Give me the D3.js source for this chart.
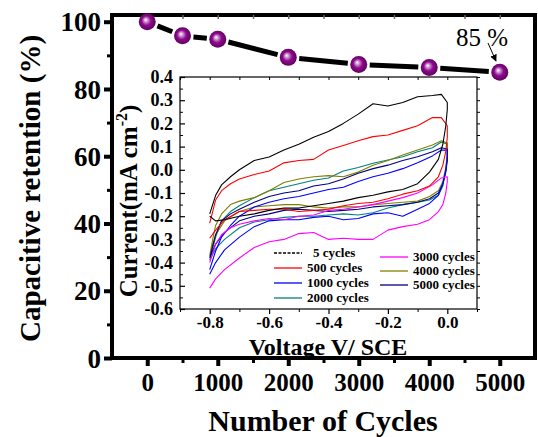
<!DOCTYPE html>
<html><head><meta charset="utf-8">
<script src="https://cdn.jsdelivr.net/npm/d3@7"></script>
<style>html,body{margin:0;padding:0;background:#fff;}svg{display:block;}</style>
</head><body>
<script>
// ---- Main chart data ----
const cycles = [0, 500, 1000, 2000, 3000, 4000, 5000];
const retention = [100, 95.8, 94.8, 89.4, 87.3, 86.4, 85.0];
const mainXTicks = [0, 1000, 2000, 3000, 4000, 5000];
const mainYTicks = [0, 20, 40, 60, 80, 100];

// ---- Inset CV data ----
const cvXTicks = [-0.8, -0.6, -0.4, -0.2, 0.0];
const cvYTicks = [-0.6, -0.5, -0.4, -0.3, -0.2, -0.1, 0.0, 0.1, 0.2, 0.3, 0.4];
const vUp = [-0.8, -0.79, -0.78, -0.76, -0.73, -0.7, -0.65, -0.6, -0.55, -0.5, -0.45, -0.4, -0.35, -0.3, -0.25, -0.2, -0.15, -0.1, -0.05, -0.02, 0.0];
const vDown = [0.0, -0.005, -0.015, -0.03, -0.06, -0.1, -0.15, -0.2, -0.25, -0.3, -0.35, -0.4, -0.45, -0.5, -0.55, -0.6, -0.65, -0.7, -0.75, -0.78, -0.8];
const cvLabels = ["5 cycles", "500 cycles", "1000 cycles", "2000 cycles", "3000 cycles", "4000 cycles", "5000 cycles"];
const cvColors = ["#000000", "#ff0000", "#0000ff", "#008080", "#ff00ff", "#808000", "#000080"];

const up5    = [-0.19, -0.15, -0.11, -0.065, -0.03, 0.0, 0.04, 0.055, 0.085, 0.11, 0.14, 0.165, 0.2, 0.24, 0.285, 0.275, 0.29, 0.315, 0.32, 0.325, 0.29];
const down5  = [0.26, 0.19, 0.11, 0.045, -0.01, -0.06, -0.085, -0.095, -0.11, -0.12, -0.135, -0.145, -0.155, -0.165, -0.165, -0.175, -0.19, -0.2, -0.215, -0.22, -0.2];
const up500  = [-0.23, -0.18, -0.13, -0.09, -0.06, -0.04, -0.02, -0.005, 0.03, 0.04, 0.045, 0.085, 0.105, 0.125, 0.143, 0.15, 0.17, 0.19, 0.225, 0.225, 0.19];
const down500= [0.14, 0.08, 0.02, -0.03, -0.07, -0.09, -0.105, -0.125, -0.14, -0.145, -0.155, -0.17, -0.175, -0.18, -0.17, -0.17, -0.175, -0.18, -0.215, -0.26, -0.295];
const up1000 = [-0.43, -0.39, -0.35, -0.29, -0.24, -0.2, -0.16, -0.14, -0.125, -0.115, -0.1, -0.085, -0.075, -0.05, -0.03, -0.015, 0.005, 0.03, 0.06, 0.085, 0.085];
const down1000=[0.05, 0.0, -0.06, -0.11, -0.145, -0.17, -0.2, -0.185, -0.19, -0.21, -0.215, -0.2, -0.205, -0.215, -0.215, -0.22, -0.245, -0.29, -0.345, -0.4, -0.45];
const up2000 = [-0.39, -0.34, -0.29, -0.22, -0.18, -0.155, -0.12, -0.09, -0.075, -0.06, -0.045, -0.035, -0.005, 0.01, 0.028, 0.042, 0.056, 0.078, 0.095, 0.12, 0.11];
const down2000=[0.06, 0.0, -0.07, -0.11, -0.13, -0.14, -0.15, -0.165, -0.185, -0.195, -0.19, -0.195, -0.2, -0.2, -0.205, -0.215, -0.225, -0.25, -0.3, -0.34, -0.39];
const up3000 = [-0.40, -0.36, -0.32, -0.28, -0.25, -0.235, -0.22, -0.21, -0.215, -0.2, -0.195, -0.175, -0.17, -0.16, -0.15, -0.135, -0.12, -0.1, -0.065, -0.035, -0.03];
const down3000=[-0.05, -0.1, -0.15, -0.18, -0.215, -0.235, -0.245, -0.26, -0.3, -0.3, -0.295, -0.3, -0.27, -0.275, -0.3, -0.31, -0.335, -0.38, -0.43, -0.47, -0.51];
const up4000 = [-0.37, -0.3, -0.24, -0.19, -0.15, -0.135, -0.12, -0.09, -0.055, -0.04, -0.03, -0.025, -0.03, -0.01, 0.02, 0.04, 0.064, 0.085, 0.107, 0.125, 0.115];
const down4000=[0.07, 0.01, -0.05, -0.09, -0.115, -0.135, -0.14, -0.145, -0.15, -0.16, -0.16, -0.165, -0.16, -0.15, -0.15, -0.155, -0.16, -0.18, -0.22, -0.28, -0.37];
const up5000 = [-0.38, -0.33, -0.28, -0.22, -0.19, -0.17, -0.14, -0.115, -0.1, -0.09, -0.07, -0.06, -0.04, -0.015, 0.005, 0.02, 0.04, 0.056, 0.078, 0.095, 0.09];
const down5000=[0.04, -0.01, -0.06, -0.1, -0.125, -0.14, -0.15, -0.155, -0.16, -0.17, -0.175, -0.18, -0.175, -0.17, -0.175, -0.19, -0.2, -0.22, -0.27, -0.32, -0.38];
const cvUp = [up5, up500, up1000, up2000, up3000, up4000, up5000];
const cvDown = [down5, down500, down1000, down2000, down3000, down4000, down5000];

const W = 538, H = 437;
const FONT = "'Liberation Serif','Times New Roman',serif";
const svg = d3.select("body").append("svg").attr("width", W).attr("height", H)
  .style("font-family", FONT);

// ---- Main chart ----
const M = {l: 112, r: 535, t: 15, b: 358};
const x = d3.scaleLinear().domain([-500, 5500]).range([M.l, M.r]);
const y = d3.scaleLinear().domain([0, 102]).range([M.b, M.t]);

svg.append("rect").attr("x", M.l).attr("y", M.t).attr("width", M.r - M.l).attr("height", M.b - M.t)
  .attr("fill", "#fff").attr("stroke", "#000").attr("stroke-width", 4);

const xAxis = d3.axisBottom(x).tickValues(mainXTicks).tickSize(8).tickFormat(d3.format("d"));
const gx = svg.append("g").attr("transform", `translate(0,${M.b})`).call(xAxis);
gx.select(".domain").remove();
gx.selectAll(".tick line").attr("stroke-width", 4);
gx.selectAll(".tick text").attr("font-size", 25).attr("font-weight", "bold").attr("font-family", FONT).attr("dy", "0.95em").attr("y", 9);
const gxm = svg.append("g").attr("transform", `translate(0,${M.b})`)
  .call(d3.axisBottom(x).tickValues([500, 1500, 2500, 3500, 4500]).tickSize(5).tickFormat(""));
gxm.select(".domain").remove();
gxm.selectAll(".tick line").attr("stroke-width", 3);

const gxt = svg.append("g").attr("transform", `translate(0,${M.t})`)
  .call(d3.axisBottom(x).tickValues([0,500,1000,1500,2000,2500,3000,3500,4000,4500,5000]).tickSize(4).tickFormat(""));
gxt.select(".domain").remove();
gxt.selectAll(".tick line").attr("stroke-width", 1.5).attr("stroke", "#666");

const yAxis = d3.axisLeft(y).tickValues(mainYTicks).tickSize(8);
const gy = svg.append("g").attr("transform", `translate(${M.l},0)`).call(yAxis);
gy.select(".domain").remove();
gy.selectAll(".tick line").attr("stroke-width", 4);
gy.selectAll(".tick text").attr("font-size", 27).attr("font-weight", "bold").attr("font-family", FONT).attr("x", -11).attr("dy", "0.34em");
const gym = svg.append("g").attr("transform", `translate(${M.l},0)`)
  .call(d3.axisLeft(y).tickValues([10, 30, 50, 70, 90]).tickSize(5).tickFormat(""));
gym.select(".domain").remove();
gym.selectAll(".tick line").attr("stroke-width", 3);

svg.append("text").attr("x", 323).attr("y", 431).attr("text-anchor", "middle")
  .attr("font-size", 30).attr("font-weight", "bold").text("Number of Cycles");
svg.append("text").attr("transform", `translate(40,${(M.t + M.b) / 2 + 2}) rotate(-90)`).attr("text-anchor", "middle")
  .attr("font-size", 29).attr("font-weight", "bold").text("Capacitive retention (%)");

// ---- Inset ----
const I = {l: 180, r: 477, t: 77, b: 309};
const ix = d3.scaleLinear().domain([-0.9, 0.1]).range([I.l, I.r]);
const iy = d3.scaleLinear().domain([-0.6, 0.4]).range([I.b, I.t]);

svg.append("rect").attr("x", I.l).attr("y", I.t).attr("width", I.r - I.l).attr("height", I.b - I.t)
  .attr("fill", "#fff").attr("stroke", "#000").attr("stroke-width", 1.2);

const fmt1 = d3.format(".1f");
const igx = svg.append("g").attr("transform", `translate(0,${I.b})`)
  .call(d3.axisBottom(ix).tickValues(cvXTicks).tickSize(5).tickFormat(fmt1));
igx.select(".domain").remove();
igx.selectAll(".tick line").attr("stroke-width", 1.2);
igx.selectAll(".tick text").attr("font-size", 17).attr("font-weight", "bold").attr("font-family", FONT).attr("y", 7).text(d => fmt1(d).replace("−", "-"));
const igxm = svg.append("g").attr("transform", `translate(0,${I.b})`)
  .call(d3.axisBottom(ix).tickValues([-0.9, -0.7, -0.5, -0.3, -0.1, 0.1]).tickSize(3).tickFormat(""));
igxm.select(".domain").remove();
const igxt = svg.append("g").attr("transform", `translate(0,${I.t})`)
  .call(d3.axisTop(ix).tickValues([-0.9,-0.8,-0.7,-0.6,-0.5,-0.4,-0.3,-0.2,-0.1,0.0]).tickSize(-3).tickFormat(""));
igxt.select(".domain").remove();

const igy = svg.append("g").attr("transform", `translate(${I.l},0)`)
  .call(d3.axisLeft(iy).tickValues(cvYTicks).tickSize(-5).tickFormat(fmt1));
igy.select(".domain").remove();
igy.selectAll(".tick line").attr("stroke-width", 1.2);
igy.selectAll(".tick text").attr("font-size", 18).attr("font-weight", "bold").attr("font-family", FONT).attr("x", -7).text(d => fmt1(d).replace("−", "-"));
const minorY = d3.range(-0.55, 0.4, 0.1);
const igym = svg.append("g").attr("transform", `translate(${I.l},0)`)
  .call(d3.axisLeft(iy).tickValues(minorY).tickSize(-3).tickFormat(""));
igym.select(".domain").remove();
const igyr = svg.append("g").attr("transform", `translate(${I.r},0)`)
  .call(d3.axisRight(iy).tickValues(cvYTicks.concat(minorY)).tickSize(3).tickFormat(""));
igyr.select(".domain").remove();

const line = d3.line().x(d => ix(d[0])).y(d => iy(d[1]));
const drawOrder = [3, 5, 6, 2, 4, 1, 0];
drawOrder.forEach(k => {
  const pts = vUp.map((v, i) => [v, cvUp[k][i]]).concat(vDown.map((v, i) => [v, cvDown[k][i]]));
  svg.append("path").attr("d", line(pts)).attr("fill", "none")
    .attr("stroke", cvColors[k]).attr("stroke-width", 1.1).attr("stroke-linejoin", "round");
});

svg.append("text").attr("x", 328).attr("y", 355).attr("text-anchor", "middle")
  .attr("font-size", 24).attr("font-weight", "bold").text("Voltage V/ SCE");
const yt = svg.append("text").attr("transform", `translate(137,201) rotate(-90)`).attr("text-anchor", "middle")
  .attr("font-size", 25).attr("font-weight", "bold");
yt.append("tspan").text("Current(mA cm");
yt.append("tspan").attr("font-size", 16).attr("dy", -10).text("-2");
yt.append("tspan").attr("dy", 10).text(")");

const legPos = [[274, 253], [274, 268], [274, 283], [274, 298], [380, 257], [380, 271], [380, 285]];
cvLabels.forEach((lab, k) => {
  const [lx, ly] = legPos[k];
  svg.append("line").attr("x1", lx).attr("x2", lx + 28).attr("y1", ly).attr("y2", ly)
    .attr("stroke", cvColors[k]).attr("stroke-width", k === 0 ? 1.6 : 1.3)
    .attr("stroke-dasharray", k === 0 ? "3,1.5" : null);
  svg.append("text").attr("x", k === 0 ? lx + 39 : lx + 33).attr("y", ly).attr("dy", "0.33em")
    .attr("font-size", 13).attr("font-weight", "bold").text(lab);
});

// ---- retention line & markers ----
const defs = svg.append("defs");
const grad = defs.append("radialGradient").attr("id", "ball").attr("cx", "50%").attr("cy", "50%").attr("r", "55%").attr("fx", "40%").attr("fy", "38%");
grad.append("stop").attr("offset", "0%").attr("stop-color", "#ffffff");
grad.append("stop").attr("offset", "18%").attr("stop-color", "#d8a0d8");
grad.append("stop").attr("offset", "50%").attr("stop-color", "#8c0a8c");
grad.append("stop").attr("offset", "100%").attr("stop-color", "#5a005a");

const pts = cycles.map((c, i) => [x(c), y(retention[i])]);
const gap = 11;
for (let i = 0; i < pts.length - 1; i++) {
  const [x1, y1] = pts[i], [x2, y2] = pts[i + 1];
  const L = Math.hypot(x2 - x1, y2 - y1), ux = (x2 - x1) / L, uy = (y2 - y1) / L;
  svg.append("line").attr("x1", x1 + ux * gap).attr("y1", y1 + uy * gap)
    .attr("x2", x2 - ux * gap).attr("y2", y2 - uy * gap)
    .attr("stroke", "#000").attr("stroke-width", 5);
}
svg.selectAll("circle.ball").data(pts).enter().append("circle").attr("class", "ball")
  .attr("cx", d => d[0]).attr("cy", d => d[1]).attr("r", 8.5).attr("fill", "url(#ball)");

svg.append("text").attr("x", 456).attr("y", 46).attr("font-size", 25).text("85 %");
defs.append("marker").attr("id", "arr").attr("viewBox", "0 0 10 10").attr("refX", 9).attr("refY", 5)
  .attr("markerWidth", 7).attr("markerHeight", 7).attr("orient", "auto")
  .append("path").attr("d", "M0,0L10,5L0,10z").attr("fill", "#000");
svg.append("line").attr("x1", 488).attr("y1", 43).attr("x2", 496).attr("y2", 61)
  .attr("stroke", "#000").attr("stroke-width", 1).attr("marker-end", "url(#arr)");
</script>
</body></html>
